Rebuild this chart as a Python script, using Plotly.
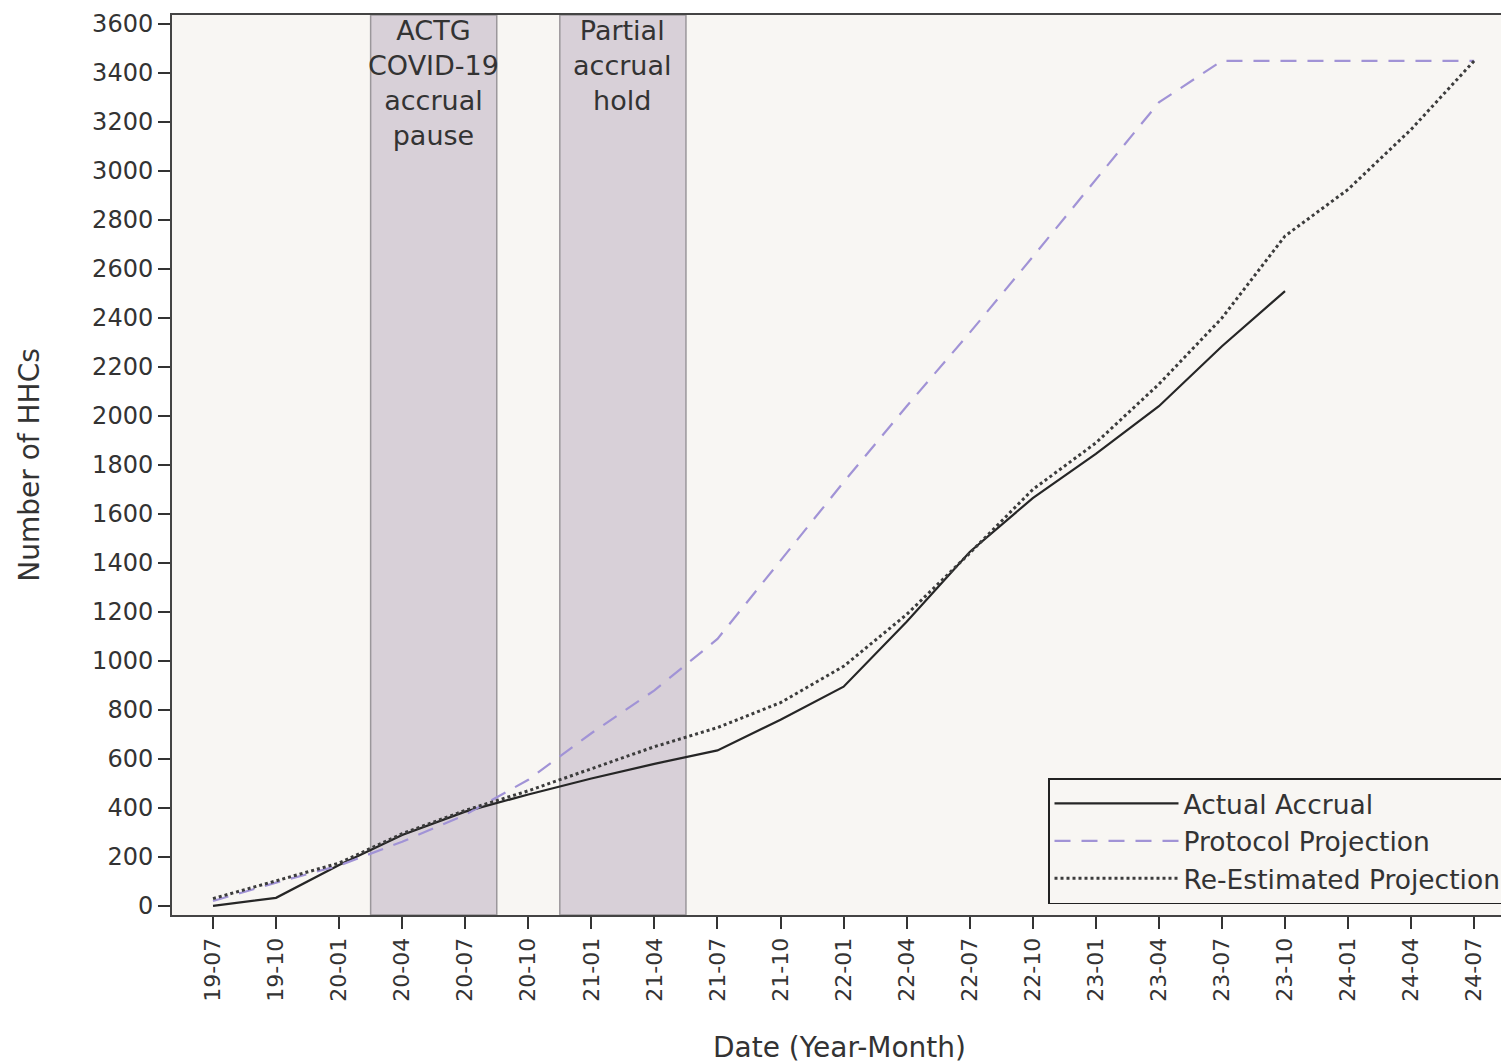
import plotly.graph_objects as go

# ---- data ----
dates = ["19-07", "19-10", "20-01", "20-04", "20-07", "20-10", "21-01", "21-04",
         "21-07", "21-10", "22-01", "22-04", "22-07", "22-10", "23-01", "23-04",
         "23-07", "23-10", "24-01", "24-04", "24-07"]
actual_accrual = [0, 33, 167, 290, 385, 455, 520, 580, 635, 760, 895, 1160,
                  1445, 1665, 1845, 2040, 2285, 2510]
protocol_projection = [20, 95, 165, 262, 372, 515, 705, 880, 1090, 1410, 1730,
                       2040, 2340, 2650, 2965, 3280, 3450, 3450, 3450, 3450, 3450]
reestimated_projection = [30, 102, 175, 295, 390, 470, 560, 650, 728, 830, 978,
                          1190, 1440, 1700, 1890, 2130, 2400, 2735, 2925, 3170, 3450]
y_ticks = list(range(0, 3601, 200))

# periods (category index positions) and their labels
pause_start = [2.5, 5.5]
pause_end = [4.5, 7.5]
pause_labels = ["ACTG<br>COVID-19<br>accrual<br>pause", "Partial<br>accrual<br>hold"]

FONT = "DejaVu Sans"
TXT = "#333333"
PLOT_BG = "#f8f6f3"

fig = go.Figure()

fig.add_trace(go.Scatter(
    x=dates[:len(actual_accrual)], y=actual_accrual, mode="lines",
    name="Actual Accrual", legendgroup="a",
    line=dict(color="#262626", width=2.2)))
fig.add_trace(go.Scatter(
    x=dates, y=protocol_projection, mode="lines",
    name="Protocol Projection", legendgroup="b",
    line=dict(color="#a193d6", width=2.2, dash="16px,11px")))
fig.add_trace(go.Scatter(
    x=dates, y=reestimated_projection, mode="lines",
    name="Re-Estimated Projection", legendgroup="c",
    line=dict(color="#3c3c3c", width=3, dash="dot")))

for x0, x1, lab in zip(pause_start, pause_end, pause_labels):
    fig.add_shape(type="rect", xref="x", yref="paper", x0=x0, x1=x1, y0=0, y1=1,
                  fillcolor="#d8d0d8", line=dict(color="#9b979b", width=1.5),
                  layer="below")
    fig.add_annotation(x=(x0 + x1) / 2, xref="x", y=1, yref="paper",
                       yanchor="top", xanchor="center", showarrow=False,
                       text=lab, font=dict(family=FONT, size=27, color=TXT),
                       yshift=2)

fig.update_layout(
    width=1501, height=1056,
    margin=dict(l=164, r=2, t=7, b=149, autoexpand=False),
    paper_bgcolor="white", plot_bgcolor=PLOT_BG,
    font=dict(family=FONT, size=24, color=TXT),
    showlegend=True,
    legend=dict(x=1, xanchor="right", y=0.012, yanchor="bottom",
                bgcolor=PLOT_BG, bordercolor="#222222", borderwidth=1.5,
                font=dict(family=FONT, size=26.5, color=TXT),
                itemwidth=124, tracegroupgap=0, traceorder="normal"),
    xaxis=dict(type="category", categoryorder="array", categoryarray=dates,
               range=[-0.65, 20.52], tickangle=-90, automargin=False,
               ticks="outside", ticklen=12, tickwidth=1.5, tickcolor="#333",
               tickfont=dict(family=FONT, size=22, color=TXT),
               showline=True, linecolor="#444", linewidth=2, mirror=True,
               showgrid=False, zeroline=False,
               title=dict(text="Date (Year-Month)", standoff=41,
                          font=dict(family=FONT, size=28, color=TXT))),
    yaxis=dict(range=[-37, 3637], tickvals=y_ticks, ticklabeloverflow="allow",
               automargin=False,
               ticks="outside", ticklen=12, tickwidth=1.5, tickcolor="#333",
               tickfont=dict(family=FONT, size=24, color=TXT),
               showline=True, linecolor="#444", linewidth=2, mirror=True,
               showgrid=False, zeroline=False,
               title=dict(text="Number of HHCs", standoff=44,
                          font=dict(family=FONT, size=28, color=TXT))),
)

fig.write_html("out.html")
